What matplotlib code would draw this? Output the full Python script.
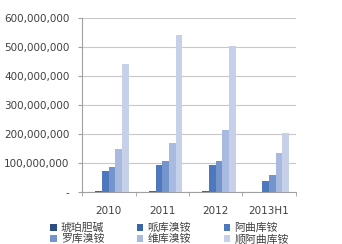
import matplotlib.pyplot as plt
import numpy as np
from matplotlib.ticker import FuncFormatter, FixedLocator

plt.rcParams["font.family"] = ["DejaVu Sans", "Noto Sans CJK SC"]

categories = ["2010", "2011", "2012", "2013H1"]
series_names = ["琥珀胆碱", "哌库溴铵", "阿曲库铵", "罗库溴铵", "维库溴铵", "顺阿曲库铵"]
values = {
    "琥珀胆碱": [1e6, 1.5e6, 1.5e6, 0.5e6],
    "哌库溴铵": [3e6, 4e6, 4e6, 1e6],
    "阿曲库铵": [74e6, 94e6, 93e6, 37e6],
    "罗库溴铵": [88e6, 107e6, 107e6, 60e6],
    "维库溴铵": [148e6, 168e6, 213e6, 136e6],
    "顺阿曲库铵": [441e6, 542e6, 505e6, 202e6],
}
colors = ["#2C4D86", "#3A64AC", "#4D78BE", "#7494CC", "#A8BADF", "#C6D1E9"]

fig = plt.figure(figsize=(3.42, 2.44), dpi=100)
ax = fig.add_axes([0.24, 0.213, 0.625, 0.713])

x = np.arange(len(categories))
n = len(series_names)
width = 0.125
handles = []
for i, name in enumerate(series_names):
    h = ax.bar(x + (i - (n - 1) / 2) * width, values[name], width, color=colors[i], zorder=3)
    handles.append(h)

ax.set_xlim(-0.5, len(categories) - 0.5)
ax.set_ylim(0, 600e6)
ax.yaxis.set_major_locator(FixedLocator(np.arange(0, 600e6 + 1, 100e6)))
ax.yaxis.set_major_formatter(FuncFormatter(lambda v, p: "-" if v == 0 else f"{int(v):,}"))
ax.grid(axis="y", color="#C8C8C8", linewidth=0.8, zorder=0)

ax.set_xticks(x)
ax.set_xticklabels(categories)
ax.set_xticks(np.arange(-0.5, len(categories)), minor=True)
ax.tick_params(axis="x", which="major", length=0, pad=10, labelsize=7.5, labelcolor="#404040")
ax.tick_params(axis="x", which="minor", length=3, color="#A0A0A0")
ax.tick_params(axis="y", length=3, color="#A0A0A0", labelsize=7.5, labelcolor="#404040", pad=6)

for s in ["top", "right"]:
    ax.spines[s].set_visible(False)
for s in ["left", "bottom"]:
    ax.spines[s].set_color("#A0A0A0")

# legend filled row by row
order = [0, 3, 1, 4, 2, 5]
fig.legend([handles[i] for i in order], [series_names[i] for i in order],
           ncol=3, loc="upper left", bbox_to_anchor=(50 / 342, 1 - 223 / 244),
           borderpad=0, borderaxespad=0,
           frameon=False, fontsize=7.8, handlelength=0.6, handleheight=0.6,
           handletextpad=0.4, columnspacing=3.0, labelspacing=0.05,
           labelcolor="#404040")

fig.savefig("out.png", dpi=100)
